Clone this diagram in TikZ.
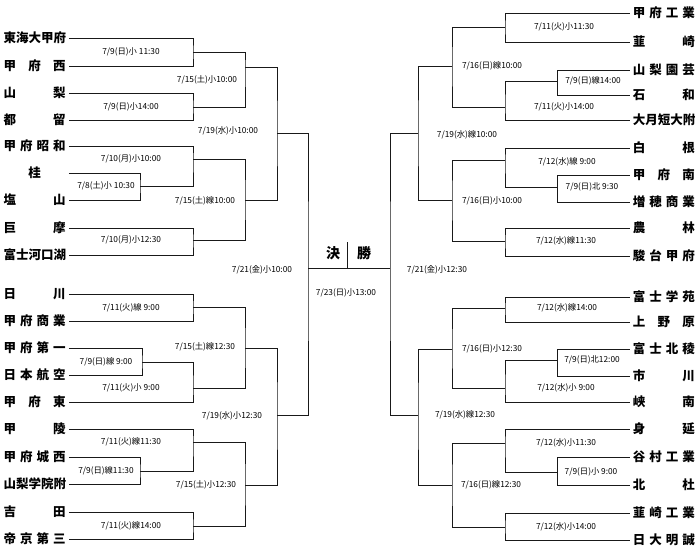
\documentclass[tikz,border=0pt]{standalone}
\usepackage{fontspec}
\newfontfamily\jp{Noto Sans CJK JP}
\tikzset{
  bl/.style={line width=0.9pt, draw=black!90},
  tl/.style={anchor=west, inner xsep=3pt, inner ysep=1pt, font=\jp\bfseries\fontsize{12.5}{13}\selectfont},
  tr/.style={anchor=east, inner xsep=3pt, inner ysep=1pt, font=\jp\bfseries\fontsize{12.5}{13}\selectfont},
  dl/.style={inner sep=0pt, font=\jp\fontsize{8.3}{9}\selectfont},
  fin/.style={inner sep=0pt, font=\jp\bfseries\fontsize{14}{15}\selectfont}
}
\newcommand\tn[1]{\makebox[62pt][s]{#1}}
\newcommand\brk[3]{\draw[bl] (#1) -| (#2) |- (#3);}
\begin{document}
\begin{tikzpicture}[x=1pt,y=-1pt]
\fill[white] (0,0) rectangle (700,553);
\useasboundingbox (0,0) rectangle (700,553);
% ---------- left teams ----------
\node[tl] (L1) at (0.5,38) {\tn{東海大甲府}};
\node[tl] (L2) at (0.5,66) {\tn{甲\hfill 府\hfill 西}};
\node[tl] (L3) at (0.5,93) {\tn{山\hfill 梨}};
\node[tl] (L4) at (0.5,120) {\tn{都\hfill 留}};
\node[tl] (L5) at (0.5,146) {\tn{甲\hfill 府\hfill 昭\hfill 和}};
\node[tl] (L6) at (0.5,173) {\tn{\hfill 桂\hfill}};
\node[tl] (L7) at (0.5,200) {\tn{塩\hfill 山}};
\node[tl] (L8) at (0.5,228) {\tn{巨\hfill 摩}};
\node[tl] (L9) at (0.5,255) {\tn{富士河口湖}};
\node[tl] (L10) at (0.5,294) {\tn{日\hfill 川}};
\node[tl] (L11) at (0.5,321) {\tn{甲\hfill 府\hfill 商\hfill 業}};
\node[tl] (L12) at (0.5,348) {\tn{甲\hfill 府\hfill 第\hfill 一}};
\node[tl] (L13) at (0.5,375) {\tn{日\hfill 本\hfill 航\hfill 空}};
\node[tl] (L14) at (0.5,402) {\tn{甲\hfill 府\hfill 東}};
\node[tl] (L15) at (0.5,429) {\tn{甲\hfill 陵}};
\node[tl] (L16) at (0.5,457) {\tn{甲\hfill 府\hfill 城\hfill 西}};
\node[tl] (L17) at (0.5,484) {\tn{山梨学院附}};
\node[tl] (L18) at (0.5,512) {\tn{吉\hfill 田}};
\node[tl] (L19) at (0.5,539) {\tn{帝\hfill 京\hfill 第\hfill 三}};
% ---------- right teams ----------
\node[tr] (R1) at (698,13) {\tn{甲\hfill 府\hfill 工\hfill 業}};
\node[tr] (R2) at (698,42) {\tn{韮\hfill 崎}};
\node[tr] (R3) at (698,70) {\tn{山\hfill 梨\hfill 園\hfill 芸}};
\node[tr] (R4) at (698,95) {\tn{石\hfill 和}};
\node[tr] (R5) at (698,120) {\tn{大月短大附}};
\node[tr] (R6) at (698,148) {\tn{白\hfill 根}};
\node[tr] (R7) at (698,175) {\tn{甲\hfill 府\hfill 南}};
\node[tr] (R8) at (698,202) {\tn{増\hfill 穂\hfill 商\hfill 業}};
\node[tr] (R9) at (698,228) {\tn{農\hfill 林}};
\node[tr] (R10) at (698,256) {\tn{駿\hfill 台\hfill 甲\hfill 府}};
\node[tr] (R11) at (698,297) {\tn{富\hfill 士\hfill 学\hfill 苑}};
\node[tr] (R12) at (698,322) {\tn{上\hfill 野\hfill 原}};
\node[tr] (R13) at (698,349) {\tn{富\hfill 士\hfill 北\hfill 稜}};
\node[tr] (R14) at (698,376) {\tn{市\hfill 川}};
\node[tr] (R15) at (698,402) {\tn{峡\hfill 南}};
\node[tr] (R16) at (698,429) {\tn{身\hfill 延}};
\node[tr] (R17) at (698,457) {\tn{谷\hfill 村\hfill 工\hfill 業}};
\node[tr] (R18) at (698,485) {\tn{北\hfill 杜}};
\node[tr] (R19) at (698,513) {\tn{韮\hfill 崎\hfill 工\hfill 業}};
\node[tr] (R20) at (698,540) {\tn{日\hfill 大\hfill 明\hfill 誠}};
% ---------- left junctions ----------
\coordinate (a1) at (193,52);
\coordinate (a2) at (193,107);
\coordinate (b1) at (245,67);
\coordinate (p1) at (140,186);
\coordinate (a3) at (193,159);
\coordinate (a4) at (193,240);
\coordinate (b2) at (245,200);
\coordinate (c1) at (277,133);
\coordinate (a5) at (193,307);
\coordinate (p2) at (142,362);
\coordinate (a6) at (193,388);
\coordinate (b3) at (245,348);
\coordinate (p3) at (140,471);
\coordinate (a7) at (193,442);
\coordinate (a8) at (193,526);
\coordinate (b4) at (245,485);
\coordinate (c2) at (277,415);
\coordinate (fl) at (308,268);
% ---------- right junctions ----------
\coordinate (ra1) at (505,27);
\coordinate (rp1) at (557,81);
\coordinate (ra2) at (505,107);
\coordinate (rb1) at (452,66);
\coordinate (rp2) at (557,187);
\coordinate (ra3) at (505,160);
\coordinate (ra4) at (505,241);
\coordinate (rb2) at (452,200);
\coordinate (rc1) at (418,133);
\coordinate (ra5) at (505,308);
\coordinate (rp3) at (557,360);
\coordinate (ra6) at (505,388);
\coordinate (rb3) at (452,349);
\coordinate (rp4) at (557,472);
\coordinate (ra7) at (505,443);
\coordinate (ra8) at (505,527);
\coordinate (rb4) at (452,485);
\coordinate (rc2) at (418,415);
\coordinate (fr) at (390,268);
% ---------- left bracket ----------
\brk{L1.east}{a1}{L2.east}
\brk{L3.east}{a2}{L4.east}
\brk{a1}{b1}{a2}
\brk{L6.east}{p1}{L7.east}
\brk{L5.east}{a3}{p1}
\brk{L8.east}{a4}{L9.east}
\brk{a3}{b2}{a4}
\brk{b1}{c1}{b2}
\brk{L10.east}{a5}{L11.east}
\brk{L12.east}{p2}{L13.east}
\brk{p2}{a6}{L14.east}
\brk{a5}{b3}{a6}
\brk{L16.east}{p3}{L17.east}
\brk{L15.east}{a7}{p3}
\brk{L18.east}{a8}{L19.east}
\brk{a7}{b4}{a8}
\brk{b3}{c2}{b4}
\brk{c1}{fl}{c2}
% ---------- right bracket ----------
\brk{R1.west}{ra1}{R2.west}
\brk{R3.west}{rp1}{R4.west}
\brk{rp1}{ra2}{R5.west}
\brk{ra1}{rb1}{ra2}
\brk{R7.west}{rp2}{R8.west}
\brk{R6.west}{ra3}{rp2}
\brk{R9.west}{ra4}{R10.west}
\brk{ra3}{rb2}{ra4}
\brk{rb1}{rc1}{rb2}
\brk{R11.west}{ra5}{R12.west}
\brk{R13.west}{rp3}{R14.west}
\brk{rp3}{ra6}{R15.west}
\brk{ra5}{rb3}{ra6}
\brk{R17.west}{rp4}{R18.west}
\brk{R16.west}{ra7}{rp4}
\brk{R19.west}{ra8}{R20.west}
\brk{ra7}{rb4}{ra8}
\brk{rb3}{rc2}{rb4}
\brk{rc1}{fr}{rc2}
\draw[bl] (fl) -- (fr);
% ---------- final ----------
\coordinate (dv1) at (347,242);
\coordinate (dv2) at (347,268);
\draw[bl] (dv1) -- (dv2);
\node[fin] (fk1) at (333,253) {決};
\node[fin] (fk2) at (364,253) {勝};
\node[dl] (f0) at (346,293) {7/23(日)小13:00};
% ---------- left labels ----------
\node[dl] (d1) at (131,52) {7/9(日)小 11:30};
\node[dl] (d2) at (207,80) {7/15(土)小10:00};
\node[dl] (d3) at (131,107) {7/9(日)小14:00};
\node[dl] (d4) at (228,131) {7/19(水)小10:00};
\node[dl] (d5) at (131,159) {7/10(月)小10:00};
\node[dl] (d6) at (106,186) {7/8(土)小 10:30};
\node[dl] (d7) at (205,201) {7/15(土)線10:00};
\node[dl] (d8) at (131,240) {7/10(月)小12:30};
\node[dl] (d9) at (262,270) {7/21(金)小10:00};
\node[dl] (d10) at (131,308) {7/11(火)線 9:00};
\node[dl] (d11) at (205,347) {7/15(土)線12:30};
\node[dl] (d12) at (106,362) {7/9(日)線 9:00};
\node[dl] (d13) at (131,388) {7/11(火)小 9:00};
\node[dl] (d14) at (232,416) {7/19(水)小12:30};
\node[dl] (d15) at (131,442) {7/11(火)線11:30};
\node[dl] (d16) at (106,471) {7/9(日)線11:30};
\node[dl] (d17) at (206,485) {7/15(土)小12:30};
\node[dl] (d18) at (131,526) {7/11(火)線14:00};
% ---------- right labels ----------
\node[dl] (e1) at (564,27) {7/11(火)小11:30};
\node[dl] (e2) at (492,66) {7/16(日)線10:00};
\node[dl] (e3) at (593,81) {7/9(日)線14:00};
\node[dl] (e4) at (564,107) {7/11(火)小14:00};
\node[dl] (e5) at (467,135) {7/19(水)線10:00};
\node[dl] (e6) at (567,162) {7/12(水)線 9:00};
\node[dl] (e7) at (592,187) {7/9(日)北 9:30};
\node[dl] (e8) at (492,201) {7/16(日)小10:00};
\node[dl] (e9) at (566,241) {7/12(水)線11:30};
\node[dl] (e10) at (437,270) {7/21(金)小12:30};
\node[dl] (e11) at (567,308) {7/12(水)線14:00};
\node[dl] (e12) at (492,349) {7/16(日)小12:30};
\node[dl] (e13) at (592,360) {7/9(日)北12:00};
\node[dl] (e14) at (566,388) {7/12(水)小 9:00};
\node[dl] (e15) at (465,415) {7/19(水)線12:30};
\node[dl] (e16) at (566,443) {7/12(水)小11:30};
\node[dl] (e17) at (591,472) {7/9(日)小 9:00};
\node[dl] (e18) at (491,485) {7/16(日)線12:30};
\node[dl] (e19) at (566,527) {7/12(水)小14:00};
\end{tikzpicture}
\end{document}
